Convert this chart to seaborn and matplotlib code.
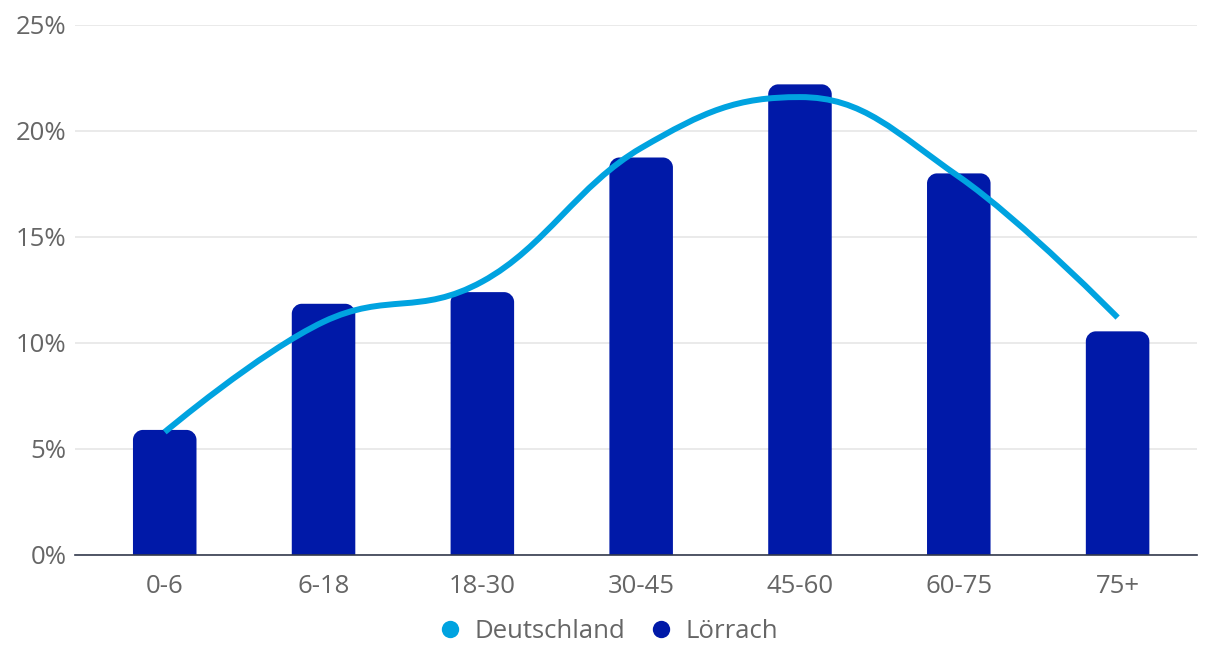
import matplotlib
matplotlib.use("Agg")
import matplotlib.pyplot as plt
import seaborn as sns
import pandas as pd
import numpy as np
from matplotlib.patches import PathPatch
from matplotlib.path import Path
from matplotlib.lines import Line2D

categories = ["0-6", "6-18", "18-30", "30-45", "45-60", "60-75", "75+"]
loerrach = [5.9, 11.85, 12.4, 18.75, 22.2, 18.0, 10.55]
deutschland = [5.8, 11.0, 12.9, 19.2, 21.6, 17.85, 11.2]
y_ticks = [0, 5, 10, 15, 20, 25]
y_tick_labels = ["0%", "5%", "10%", "15%", "20%", "25%"]

BAR_COLOR = "#0019A8"
LINE_COLOR = "#00A3E0"
TEXT_COLOR = "#666666"

sns.set_theme(style="white")
plt.rcParams["font.family"] = ["Open Sans", "DejaVu Sans"]

fig = plt.figure(figsize=(12.1, 6.45), dpi=100)
ax = fig.add_axes([75 / 1210, (645 - 555) / 645, (1197 - 75) / 1210, 530 / 645])

df = pd.DataFrame({"cat": categories, "val": loerrach})
sns.barplot(data=df, x="cat", y="val", color=BAR_COLOR, width=0.4,
            saturation=1, ax=ax, zorder=2)

xlim = (-0.565, 6.5)
ylim = (0, 25)
ax.set_xlim(*xlim)
ax.set_ylim(*ylim)

# replace bars with rounded-top versions (radius given in pixels)
px_w = 1122 / (xlim[1] - xlim[0])
px_h = 530 / (ylim[1] - ylim[0])
R = 10
k = 0.5523


def rounded_top(x0, x1, y0, y1, rx, ry):
    v = [(x0, y0), (x0, y1 - ry),
         (x0, y1 - ry + k * ry), (x0 + rx - k * rx, y1), (x0 + rx, y1),
         (x1 - rx, y1),
         (x1 - rx + k * rx, y1), (x1, y1 - ry + k * ry), (x1, y1 - ry),
         (x1, y0), (x0, y0)]
    c = [Path.MOVETO, Path.LINETO,
         Path.CURVE4, Path.CURVE4, Path.CURVE4,
         Path.LINETO,
         Path.CURVE4, Path.CURVE4, Path.CURVE4,
         Path.LINETO, Path.CLOSEPOLY]
    return Path(v, c)


for p in list(ax.patches):
    x, w, h = p.get_x(), p.get_width(), p.get_height()
    p.remove()
    ax.add_patch(PathPatch(rounded_top(x, x + w, 0, h, R / px_w, R / px_h),
                           facecolor=BAR_COLOR, edgecolor="none", zorder=2))

# Highcharts-style spline through the Deutschland values
xs = list(range(len(deutschland)))
ys = list(deutschland)
sm = 1.5
den = sm + 1
left = [None] * len(xs)
right = [None] * len(xs)
for i in range(1, len(xs) - 1):
    lx = (sm * xs[i] + xs[i - 1]) / den
    ly = (sm * ys[i] + ys[i - 1]) / den
    rx = (sm * xs[i] + xs[i + 1]) / den
    ry = (sm * ys[i] + ys[i + 1]) / den
    corr = (ry - ly) * (rx - xs[i]) / (rx - lx) + ys[i] - ry
    ly += corr
    ry += corr
    if ly > ys[i - 1] and ly > ys[i]:
        ly = max(ys[i - 1], ys[i])
        ry = 2 * ys[i] - ly
    elif ly < ys[i - 1] and ly < ys[i]:
        ly = min(ys[i - 1], ys[i])
        ry = 2 * ys[i] - ly
    if ry > ys[i + 1] and ry > ys[i]:
        ry = max(ys[i + 1], ys[i])
        ly = 2 * ys[i] - ry
    elif ry < ys[i + 1] and ry < ys[i]:
        ry = min(ys[i + 1], ys[i])
        ly = 2 * ys[i] - ry
    left[i] = (lx, ly)
    right[i] = (rx, ry)

verts = [(xs[0], ys[0])]
codes = [Path.MOVETO]
for i in range(1, len(xs)):
    c1 = right[i - 1] if right[i - 1] is not None else (xs[i - 1], ys[i - 1])
    c2 = left[i] if left[i] is not None else (xs[i], ys[i])
    verts += [c1, c2, (xs[i], ys[i])]
    codes += [Path.CURVE4] * 3
ax.add_patch(PathPatch(Path(verts, codes), facecolor="none",
                       edgecolor=LINE_COLOR, lw=4.3, zorder=3,
                       capstyle="butt"))

# axes styling
ax.set_yticks(y_ticks)
ax.set_yticklabels(y_tick_labels)
ax.grid(axis="y", color="#e6e6e6", lw=1.2, zorder=0)
ax.grid(axis="x", visible=False)
ax.set_axisbelow(True)
for s in ["top", "right", "left"]:
    ax.spines[s].set_visible(False)
ax.spines["bottom"].set_color("#333a4d")
ax.spines["bottom"].set_linewidth(1.2)
ax.spines["bottom"].set_zorder(4)
ax.set_xlabel("")
ax.set_ylabel("")
ax.tick_params(axis="both", length=0, labelsize=18.5, colors=TEXT_COLOR)
ax.tick_params(axis="y", pad=6)
ax.tick_params(axis="x", pad=14)

handles = [
    Line2D([], [], marker="o", linestyle="none", markersize=12.5,
           markerfacecolor=LINE_COLOR, markeredgecolor="none", label="Deutschland"),
    Line2D([], [], marker="o", linestyle="none", markersize=12.5,
           markerfacecolor=BAR_COLOR, markeredgecolor="none", label="Lörrach"),
]
leg = fig.legend(handles=handles, loc="center", bbox_to_anchor=(608 / 1210, 1 - 631 / 645),
                 ncol=2, frameon=False, fontsize=18.5, handletextpad=0.45,
                 columnspacing=0.9, handlelength=1.0)
for t in leg.get_texts():
    t.set_color(TEXT_COLOR)

fig.savefig("out.png", dpi=100)
